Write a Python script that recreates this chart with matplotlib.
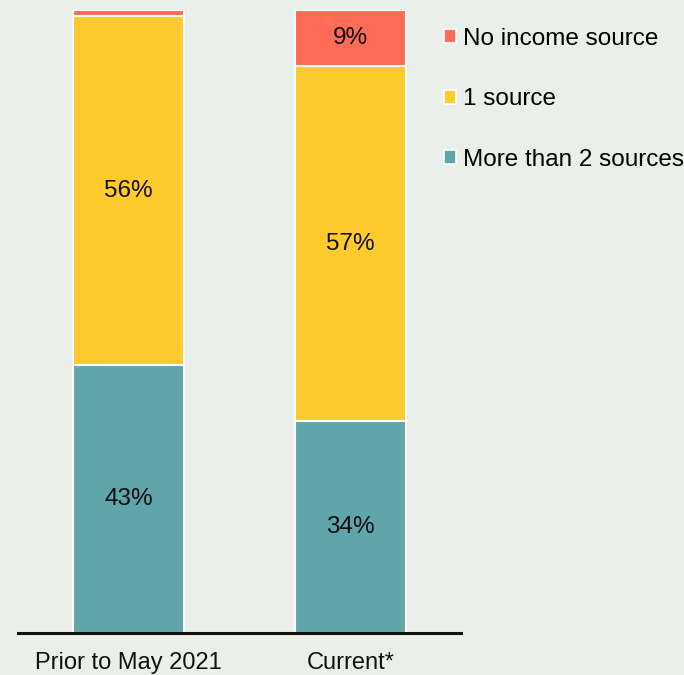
import numpy as np
import matplotlib.pyplot as plt
from matplotlib.patches import Patch

periods = ["Prior to May 2021", "Current*"]
series = ["More than 2 sources", "1 source", "No income source"]
more_than_2 = [43, 34]
one_source = [56, 57]
no_income = [1, 9]

colors = {"More than 2 sources": "#60a5aa",
          "1 source": "#ffca2c",
          "No income source": "#ff6b57"}
bg = "#ebefe9"

plt.rcParams["font.family"] = ["Liberation Sans", "DejaVu Sans"]

fig = plt.figure(figsize=(6.84, 6.75), dpi=100, facecolor=bg)
ax = fig.add_axes([18 / 684, 42 / 675, 443 / 684, 623 / 675])
ax.set_facecolor(bg)

x = np.arange(len(periods))
bottom = np.zeros(len(periods))
for name, vals in zip(series, [more_than_2, one_source, no_income]):
    vals = np.array(vals, dtype=float)
    ax.bar(x, vals, width=0.5, bottom=bottom, color=colors[name],
           edgecolor="white", linewidth=1.5)
    for xi, b, v in zip(x, bottom, vals):
        if v >= 5:
            ax.text(xi, b + v / 2, f"{int(v)}%", ha="center", va="center",
                    fontsize=17.5, color="#111111")
    bottom += vals

ax.set_xlim(-0.5, 1.5)
ax.set_ylim(0, 100)
for s in ["top", "right", "left"]:
    ax.spines[s].set_visible(False)
ax.spines["bottom"].set_linewidth(2.2)
ax.spines["bottom"].set_color("#111111")
ax.set_yticks([])
ax.set_xticks(x)
ax.set_xticklabels(periods, fontsize=17, color="#111111")
ax.tick_params(axis="x", length=0, pad=14)

handles = [Patch(facecolor=colors[n], edgecolor="white", linewidth=1.2, label=n)
           for n in reversed(series)]
fig.legend(handles=handles, loc="upper left", bbox_to_anchor=(444 / 684, 1 - 28 / 675),
           frameon=False, fontsize=17.5, handlelength=0.5, handleheight=0.5,
           handletextpad=0.3, labelspacing=1.58, borderpad=0, borderaxespad=0)

fig.savefig("out.png", dpi=100, facecolor=bg)
